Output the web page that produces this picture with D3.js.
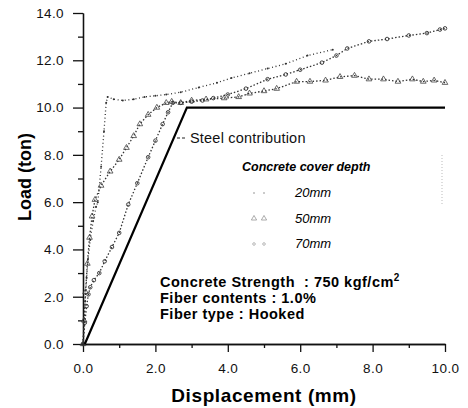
<!DOCTYPE html>
<html>
<head>
<meta charset="utf-8">
<script src="https://cdn.jsdelivr.net/npm/d3@7"></script>
<style>
  body { margin: 0; background: #fff; }
  svg { display: block; font-family: "Liberation Sans", Arial, sans-serif; }
  text { white-space: pre; }
</style>
</head>
<body>
<svg id="chart" width="468" height="408"></svg>
<script>
// values
var steelDisp = [0.05, 2.87, 10.0];
var steelLoad = [0, 10.0, 10.0];

// 20mm - steep dotted curve
var disp20 = [0, 0.03, 0.06, 0.1, 0.14, 0.2, 0.28, 0.36, 0.41, 0.5, 0.58, 0.64, 0.68, 0.85, 1.1, 1.4, 1.7, 2.0, 2.3, 2.7, 3.2, 3.7, 4.1, 4.6, 5.1, 5.6, 6.2, 6.9];
var load20 = [0, 0.8, 1.8, 2.8, 3.6, 4.4, 5.2, 5.8, 6.0, 7.5, 9.0, 10.2, 10.45, 10.35, 10.3, 10.35, 10.45, 10.5, 10.55, 10.65, 10.85, 11.05, 11.25, 11.45, 11.65, 11.85, 12.2, 12.45];

// 50mm - triangles, plateau ~11.2
var disp50 = [0, 0.03, 0.07, 0.12, 0.18, 0.25, 0.33, 0.5, 0.75, 1.0, 1.2, 1.4, 1.57, 1.8, 2.04, 2.3, 2.45, 2.7, 3.0, 3.4, 3.9, 4.3, 4.6, 5.0, 5.35, 5.9, 6.27, 6.7, 7.1, 7.5, 7.9, 8.3, 8.7, 9.1, 9.4, 9.7, 10.0];
var load50 = [0, 1.0, 2.2, 3.4, 4.5, 5.4, 6.1, 6.7, 7.3, 7.8, 8.3, 8.8, 9.3, 9.7, 10.0, 10.2, 10.25, 10.2, 10.3, 10.35, 10.4, 10.45, 10.6, 10.7, 10.8, 11.1, 11.1, 11.15, 11.3, 11.35, 11.2, 11.2, 11.1, 11.2, 11.1, 11.15, 11.05];

// 70mm - circles, rising to ~13.3
var disp70 = [0, 0.05, 0.1, 0.15, 0.2, 0.3, 0.45, 0.6, 0.8, 1.0, 1.25, 1.5, 1.8, 2.0, 2.2, 2.35, 2.48, 2.7, 3.0, 3.3, 3.6, 4.0, 4.5, 5.1, 5.6, 6.0, 6.6, 7.0, 7.3, 7.9, 8.4, 9.0, 9.5, 9.86, 10.0];
var load70 = [0, 0.9, 1.6, 2.1, 2.4, 2.7, 3.0, 3.5, 4.1, 4.7, 5.9, 6.8, 7.9, 8.6, 9.3, 9.8, 10.2, 10.2, 10.25, 10.3, 10.4, 10.55, 10.8, 11.2, 11.4, 11.6, 11.9, 12.2, 12.5, 12.8, 12.9, 13.05, 13.15, 13.3, 13.35];

var xTicks = [0, 2, 4, 6, 8, 10];
var xMinor = [1, 3, 5, 7, 9];
var yTicks = [0, 2, 4, 6, 8, 10, 12, 14];
var yMinor = [1, 3, 5, 7, 9, 11, 13];

var legendNames = ["20mm", "50mm", "70mm"];
var infoLines = ["Concrete Strength  : 750 kgf/cm", "Fiber contents : 1.0%", "Fiber type : Hooked"];

var svg = d3.select("#chart");

var x = d3.scaleLinear().domain([0, 10]).range([83, 445]);
var y = d3.scaleLinear().domain([0, 14]).range([344, 13]);

// axes
var fmt = d3.format(".1f");
var gy = svg.append("g").attr("transform", "translate(83,0)")
  .call(d3.axisLeft(y).tickValues(yTicks).tickFormat(fmt).tickSize(10).tickSizeOuter(0).tickPadding(9));
var gyMin = svg.append("g").attr("transform", "translate(83,0)")
  .call(d3.axisLeft(y).tickValues(yMinor).tickFormat("").tickSize(5).tickSizeOuter(0));
var gx = svg.append("g").attr("transform", "translate(0,344)")
  .call(d3.axisBottom(x).tickValues(xTicks).tickFormat(fmt).tickSize(8).tickSizeOuter(0).tickPadding(11));
var gxMin = svg.append("g").attr("transform", "translate(0,344)")
  .call(d3.axisBottom(x).tickValues(xMinor).tickFormat("").tickSize(4).tickSizeOuter(0));

svg.selectAll(".domain, .tick line").attr("stroke", "#111").attr("stroke-width", 1.3);
svg.selectAll(".tick text").attr("font-size", 13.5).attr("fill", "#111")
  .attr("letter-spacing", 0.4)
  .attr("font-family", "'Liberation Sans', Arial, sans-serif");

// axis titles
svg.append("text").attr("transform", "translate(31,177) rotate(-90)")
  .attr("text-anchor", "middle").attr("font-weight", "bold").attr("font-size", 18)
  .text("Load (ton)");
svg.append("text").attr("x", 264).attr("y", 402)
  .attr("text-anchor", "middle").attr("font-weight", "bold").attr("font-size", 19)
  .attr("letter-spacing", 0.6)
  .text("Displacement (mm)");

function pts(dx, ly) {
  return dx.map(function (d, i) { return [d, ly[i]]; });
}
var line = d3.line().x(function (d) { return x(d[0]); }).y(function (d) { return y(d[1]); });

var series = [
  { name: "20mm", data: pts(disp20, load20), shape: "dot" },
  { name: "50mm", data: pts(disp50, load50), shape: "tri" },
  { name: "70mm", data: pts(disp70, load70), shape: "circ" }
];

series.forEach(function (s) {
  svg.append("path").datum(s.data)
    .attr("d", line)
    .attr("fill", "none")
    .attr("stroke", "#333")
    .attr("stroke-width", 1.3)
    .attr("stroke-dasharray", s.shape == "dot" ? "1,2.6" : "1.5,2");
  var g = svg.append("g");
  if (s.shape == "tri") {
    g.selectAll("path").data(s.data).enter().append("path")
      .attr("d", d3.symbol().type(d3.symbolTriangle).size(14))
      .attr("transform", function (d) { return "translate(" + x(d[0]) + "," + y(d[1]) + ")"; })
      .attr("fill", "none").attr("stroke", "#444").attr("stroke-width", 0.8);
  } else if (s.shape == "circ") {
    g.selectAll("circle").data(s.data).enter().append("circle")
      .attr("cx", function (d) { return x(d[0]); })
      .attr("cy", function (d) { return y(d[1]); })
      .attr("r", 1.8)
      .attr("fill", "none").attr("stroke", "#333").attr("stroke-width", 0.9);
  } else {
    g.selectAll("circle").data(s.data).enter().append("circle")
      .attr("cx", function (d) { return x(d[0]); })
      .attr("cy", function (d) { return y(d[1]); })
      .attr("r", 1)
      .attr("fill", "#333");
  }
});

// steel contribution
svg.append("path").datum(pts(steelDisp, steelLoad))
  .attr("d", line).attr("fill", "none")
  .attr("stroke", "#000").attr("stroke-width", 2.2);
svg.append("line").attr("x1", 177).attr("x2", 187).attr("y1", 138).attr("y2", 138)
  .attr("stroke", "#222").attr("stroke-width", 1).attr("stroke-dasharray", "3,2");
svg.append("text").attr("x", 190).attr("y", 143).attr("font-size", 14.5).attr("fill", "#111")
  .attr("letter-spacing", 0.2)
  .text("Steel contribution");

// legend
svg.append("text").attr("x", 242).attr("y", 171)
  .attr("font-weight", "bold").attr("font-style", "italic").attr("font-size", 12.5)
  .text("Concrete cover depth");
svg.append("line").attr("x1", 442).attr("x2", 442).attr("y1", 155).attr("y2", 205)
  .attr("stroke", "#bbb").attr("stroke-dasharray", "1,2");

var leg = svg.selectAll(".leg").data(series).enter().append("g")
  .attr("transform", function (d, i) { return "translate(0," + (197 + i * 25.5) + ")"; });
leg.append("text").attr("x", 295).attr("y", 0)
  .attr("font-style", "italic").attr("font-size", 13)
  .text(function (d, i) { return legendNames[i]; });
leg.each(function (s) {
  var g = d3.select(this);
  [254, 264].forEach(function (px) {
    if (s.shape == "tri") {
      g.append("path").attr("d", d3.symbol().type(d3.symbolTriangle).size(12))
        .attr("transform", "translate(" + px + ",-4)")
        .attr("fill", "none").attr("stroke", "#888").attr("stroke-width", 0.7);
    } else if (s.shape == "circ") {
      g.append("circle").attr("cx", px).attr("cy", -4).attr("r", 1.3)
        .attr("fill", "none").attr("stroke", "#999").attr("stroke-width", 0.7);
    } else {
      g.append("circle").attr("cx", px).attr("cy", -4).attr("r", 0.8).attr("fill", "#888");
    }
  });
});

// test conditions
var info = svg.append("g");
infoLines.forEach(function (t, i) {
  var tx = info.append("text").attr("x", 160).attr("y", 287 + i * 16)
    .attr("font-weight", "bold").attr("font-size", 14.5).attr("letter-spacing", 0.5).text(t);
  if (i == 0) {
    tx.append("tspan").attr("dy", -6).attr("font-size", 10).text("2");
  }
});
</script>
</body>
</html>
